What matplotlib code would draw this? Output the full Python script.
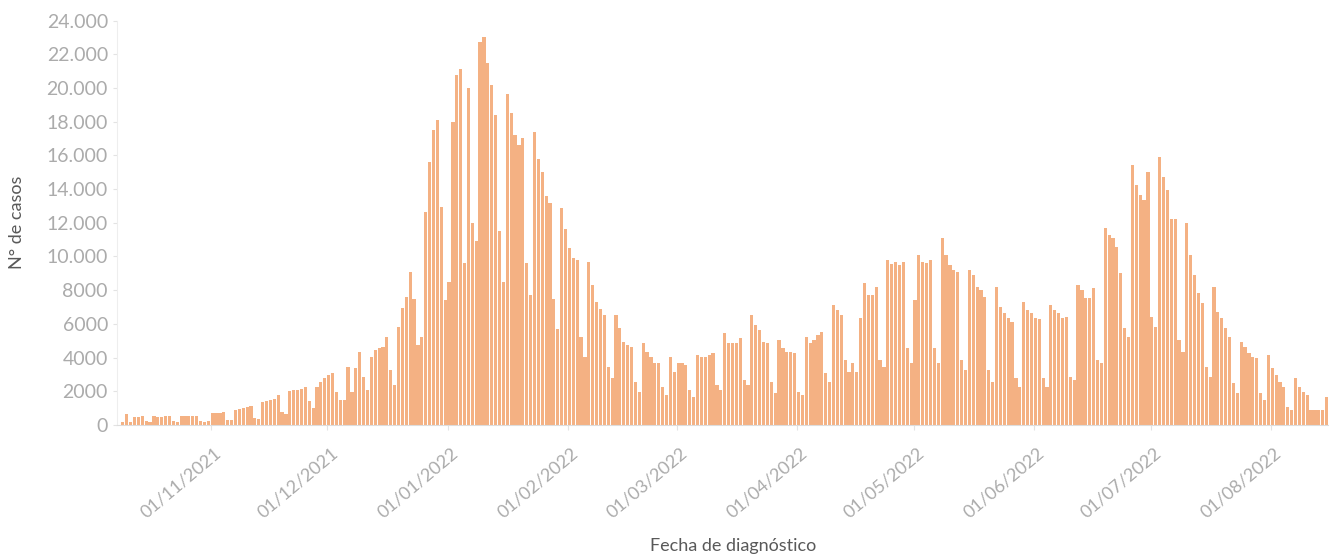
import numpy as np
import pandas as pd
import matplotlib
matplotlib.use('Agg')
import matplotlib.pyplot as plt
import matplotlib.dates as mdates
from matplotlib.ticker import FuncFormatter
from matplotlib.transforms import ScaledTranslation

# Daily cases by diagnosis date
start_date = '2021-10-10'
oct_2021 = [200,
            630, 150, 480, 500, 520, 250, 200,
            520, 480, 500, 530, 560, 250, 200,
            550, 530, 540, 560, 520, 250, 200]
nov_2021 = [220, 720, 740, 700, 760, 320, 280,
            900, 950, 1000, 1050, 1130, 420, 380,
            1380, 1450, 1500, 1560, 1780, 750, 650,
            2000, 2050, 2100, 2150, 2270, 1400, 1000,
            2270, 2570]
dec_2021 = [2770, 2960, 3060, 1980, 1480,
            1480, 3460, 1980, 3360, 4350, 2860, 2075,
            4050, 4450, 4545, 4640, 5200, 3260, 2370,
            5830, 6920, 7600, 9090, 7500, 4740, 5240,
            12650, 15600, 17500, 18080, 12940]
jan_2022 = [7400, 8500,
            18000, 20750, 21150, 9600, 20000, 12000, 10900,
            22700, 23000, 21500, 20150, 18400, 11500, 8500,
            19650, 18500, 17200, 16600, 17000, 9600, 7700,
            17400, 15800, 15000, 13600, 13200, 7500, 5700,
            12850]
feb_2022 = [11600, 10500, 9900, 9800, 5240, 4050,
            9680, 8300, 7310, 6900, 6520, 3460, 2770,
            6520, 5730, 4940, 4740, 4640, 2570, 1980,
            4840, 4350, 4050, 3650, 3650, 2270, 1780,
            4050]
mar_2022 = [3160, 3650, 3650, 3560, 2075, 1680,
            4150, 4050, 4050, 4150, 4250, 2370, 2075,
            5430, 4840, 4840, 4840, 5140, 2670, 2370,
            6520, 5930, 5630, 4900, 4840, 2570, 1880,
            5040, 4545, 4350, 4350]
apr_2022 = [4250, 1980, 1780,
            5240, 4840, 5040, 5340, 5530, 3060, 2570,
            7110, 6820, 6520, 3850, 3160, 3650, 3160,
            6320, 8400, 7700, 7700, 8200, 3850, 3460,
            9780, 9580, 9680, 9500, 9700, 4545]
may_2022 = [3650,
            7400, 10100, 9700, 9600, 9800, 4545, 3650,
            11070, 10080, 9490, 9190, 9100, 3850, 3260,
            9190, 8890, 8200, 8000, 7610, 3260, 2570,
            8200, 7020, 6620, 6320, 6130, 2770, 2270,
            7310, 6820]
jun_2022 = [6620, 6320, 6300, 2770, 2270,
            7110, 6820, 6620, 6320, 6420, 2860, 2670,
            8300, 8000, 7510, 7510, 8100, 3850, 3650,
            11660, 11260, 11070, 10570, 8990, 5730, 5240,
            15420, 14230, 13640, 13340]
jul_2022 = [15020, 6420, 5830,
            15910, 14730, 13940, 12250, 12250, 5040, 4350,
            11960, 10080, 8890, 7810, 7210, 3460, 2870,
            8200, 6720, 6320, 5730, 5240, 2470, 1880,
            4940, 4640, 4250, 4050, 3950, 1880, 1480]
aug_2022 = [4150, 3360, 2960, 2570, 2270, 1090, 890,
            2770, 2270, 1980, 1780, 890, 890, 890,
            890, 1680]

cases = (oct_2021 + nov_2021 + dec_2021 + jan_2022 + feb_2022 + mar_2022 +
         apr_2022 + may_2022 + jun_2022 + jul_2022 + aug_2022)
dates = pd.date_range(start_date, periods=len(cases), freq='D')

tick_dates = pd.date_range('2021-11-01', '2022-08-01', freq='MS')
tick_labels = [d.strftime('%d/%m/%Y') for d in tick_dates]
y_ticks = list(range(0, 24001, 2000))

x_title = 'Fecha de diagnóstico'
y_title = 'N° de casos'

plt.rcParams['font.family'] = ['Lato', 'DejaVu Sans']

W, H = 1329, 555
fig = plt.figure(figsize=(W / 100, H / 100), dpi=100)
left_px, top_px, bottom_px = 117, 20.5, 425
ax = fig.add_axes([left_px / W, 1 - bottom_px / H, 1 - left_px / W, (bottom_px - top_px) / H])

xnum = mdates.date2num(dates) - 0.7
ax.bar(xnum, cases, width=0.82, color='#F4B183', linewidth=0)

px_per_day = 3.883
nov1 = mdates.date2num(pd.Timestamp('2021-11-01'))
ax.set_xlim(nov1 - (211 - left_px) / px_per_day, nov1 + (W - 211) / px_per_day)
ax.set_ylim(0, 24000)


def fmt(v, pos):
    v = int(round(v))
    if v >= 10000:
        return f'{v:,}'.replace(',', '.')
    return str(v)


ax.set_yticks(y_ticks)
ax.yaxis.set_major_formatter(FuncFormatter(fmt))
ax.set_xticks(mdates.date2num(tick_dates))
ax.set_xticklabels(tick_labels)

for s in ['top', 'right']:
    ax.spines[s].set_visible(False)
ax.spines['left'].set_color('#EEEEEE')
ax.spines['bottom'].set_color('#DDDDDD')

ax.tick_params(axis='y', length=3, color='#E3E3E3', labelcolor='#ABABAB', labelsize=14, pad=3.5)
ax.tick_params(axis='x', length=3.5, color='#E3E3E3', labelcolor='#ABABAB', labelsize=13, pad=10.5)

offset = ScaledTranslation(3 / 100, 0, fig.dpi_scale_trans)
for lab in ax.get_xticklabels():
    lab.set_rotation(40)
    lab.set_rotation_mode('anchor')
    lab.set_horizontalalignment('right')
    lab.set_verticalalignment('top')
    lab.set_transform(lab.get_transform() + offset)

ax.set_ylabel(y_title, fontsize=13, color='#595959')
ax.yaxis.set_label_coords(-0.0759, 0.5)
ax.set_xlabel(x_title, fontsize=13, color='#595959')
ax.xaxis.set_label_coords(0.5087, -0.2794)

fig.savefig('out.png', dpi=100)
